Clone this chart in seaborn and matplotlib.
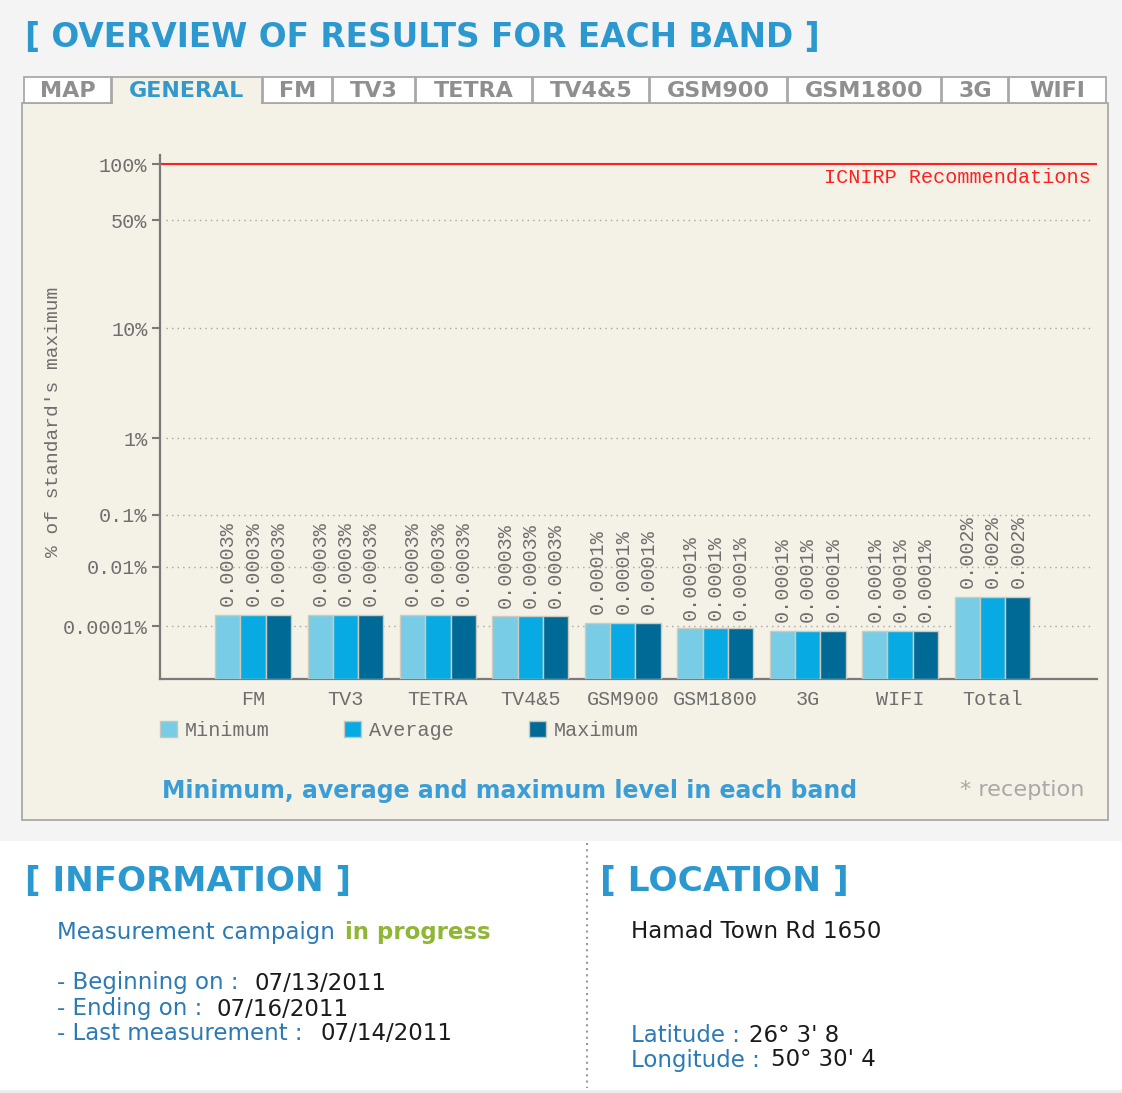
import numpy as np
import pandas as pd
import matplotlib
matplotlib.use("Agg")
import matplotlib.pyplot as plt
import seaborn as sns
from matplotlib.patches import Rectangle
from matplotlib.lines import Line2D

# ---------------- data ----------------
bands = ["FM", "TV3", "TETRA", "TV4&5", "GSM900", "GSM1800", "3G", "WIFI", "Total"]
levels = ["Minimum", "Average", "Maximum"]
minimum = [0.00024, 0.00024, 0.00024, 0.00021, 0.00013, 0.000085, 0.000066, 0.000066, 0.00098]
average = [0.00024, 0.00024, 0.00024, 0.00021, 0.00013, 0.000085, 0.000066, 0.000066, 0.00098]
maximum = [0.00024, 0.00024, 0.00024, 0.00021, 0.00013, 0.000085, 0.000066, 0.000066, 0.00098]
value_labels = ["0.0003%", "0.0003%", "0.0003%", "0.0003%", "0.0001%",
                "0.0001%", "0.0001%", "0.0001%", "0.002%"]
tick_values = [100, 50, 10, 1, 0.1, 0.01, 0.0001]
tick_labels = ["100%", "50%", "10%", "1%", "0.1%", "0.01%", "0.0001%"]
icnirp_limit = 100
tabs = ["MAP", "GENERAL", "FM", "TV3", "TETRA", "TV4&5", "GSM900", "GSM1800", "3G", "WIFI"]
active_tab = "GENERAL"
colors = ["#78cce6", "#08aae4", "#006a96"]

# ---------------- figure helpers ----------------
W, H = 1122, 1093
plt.rcParams["font.family"] = ["Liberation Mono", "DejaVu Sans Mono"]
fig = plt.figure(figsize=(W / 100, H / 100), dpi=100, facecolor="white")
renderer = fig.canvas.get_renderer()


def fx(x):
    return x / W


def fy(y):
    return 1 - y / H


def rect(x0, y0, x1, y1, fc, ec="none", lw=0, z=0):
    fig.add_artist(Rectangle((fx(x0), fy(y1)), (x1 - x0) / W, (y1 - y0) / H,
                             transform=fig.transFigure, facecolor=fc,
                             edgecolor=ec, lw=lw, zorder=z))


def put(x, y, s, size=14, width=None, **kw):
    kw.setdefault("va", "center")
    kw.setdefault("family", "DejaVu Sans")
    t = fig.text(fx(x), fy(y), s, fontsize=size, **kw)
    if width is not None:
        w = t.get_window_extent(renderer).width
        t.set_fontsize(size * width / w)
    return t


# ---------------- page background ----------------
rect(0, 0, W, 841, "#f4f4f4", z=0)
rect(22, 103, 1108, 820, "#f4f1e6", ec="#a9a9a9", lw=1.3, z=1)

tab_edges = [23, 111, 262, 332, 415, 532, 649, 787, 941, 1008, 1106]
for i, name in enumerate(tabs):
    x0, x1 = tab_edges[i] + 1, tab_edges[i + 1]
    active = name == active_tab
    rect(x0, 77, x1, 103, "#f4f1e6" if active else "white", ec="#a9a9a9", lw=1.3, z=2)
    if active:
        rect(x0 + 1, 101.5, x1 - 1, 105, "#f4f1e6", z=3)
    put((x0 + x1) / 2, 91, name, size=16, weight="bold", ha="center",
        color="#3399cc" if active else "#8f8f8f", zorder=4)

put(25, 38, "[ OVERVIEW OF RESULTS FOR EACH BAND ]", size=24, width=797,
    weight="bold", color="#2b98d0", zorder=4)

put(162, 791, "Minimum, average and maximum level in each band", size=15, width=694,
    weight="bold", color="#3a9dd6", zorder=4)
put(960, 790, "* reception", size=14, width=125, color="#a8a8a8", zorder=4)

# ---------------- chart ----------------
scale_log = [-6, -4, -2, -1, 0, 1, np.log10(50), 2, np.log10(112)]
scale_px = [679, 626, 567, 515, 438, 328, 220, 164, 155]
P = [679 - p for p in scale_px]


def fwd(v):
    v = np.asarray(v, dtype=float)
    return np.interp(np.log10(np.maximum(v, 1e-12)), scale_log, P)


def inv(p):
    return 10 ** np.interp(np.asarray(p, dtype=float), P, scale_log)


ax = fig.add_axes([fx(160), fy(679), (1097 - 160) / W, (679 - 155) / H], zorder=5)
ax.set_facecolor("none")

df = pd.DataFrame({
    "band": bands * 3,
    "level": [levels[0]] * 9 + [levels[1]] * 9 + [levels[2]] * 9,
    "value": minimum + average + maximum,
})
sns.barplot(data=df, x="band", y="value", hue="level", order=bands, hue_order=levels,
            palette=colors, saturation=1, width=0.82, edgecolor="#cfcabb",
            linewidth=1, ax=ax, legend=False, zorder=3)

ax.set_yscale("function", functions=(fwd, inv))
ax.set_ylim(1e-6, 112)
ax.set_xlim(-1.006, 9.13)

MS = 14.5
GRAY = "#6e6e6e"
for v in tick_values[1:]:
    ax.axhline(v, color="#a3a3a3", lw=1, ls=(0, (1, 3)), xmin=0.006, xmax=0.995, zorder=1)
ax.axhline(icnirp_limit, color="#ff2020", lw=1.5, zorder=2)
ax.annotate("ICNIRP Recommendations", xy=(0.9936, icnirp_limit),
            xycoords=ax.get_yaxis_transform(), xytext=(0, -3),
            textcoords="offset points", ha="right", va="top",
            fontsize=MS, color="#ff2020")

for container in ax.containers:
    ax.bar_label(container, labels=value_labels, rotation=90, padding=6,
                 fontsize=MS, color=GRAY)

ax.set_yticks(tick_values, tick_labels)
ax.minorticks_off()
ax.tick_params(axis="y", length=6, width=1.5, color="#7a7a7a", pad=3,
               labelsize=MS, labelcolor=GRAY)
ax.tick_params(axis="x", length=0, pad=8, labelsize=MS, labelcolor=GRAY)
ax.set_xlabel("")
ax.set_ylabel("% of standard's maximum", fontsize=14, color=GRAY)
ax.yaxis.set_label_coords(-0.1046, 0.49)
for s in ["top", "right"]:
    ax.spines[s].set_visible(False)
for s in ["left", "bottom"]:
    ax.spines[s].set_color("#7a7a7a")
    ax.spines[s].set_linewidth(1.6)

handles = [Rectangle((0, 0), 1, 1, facecolor=c, edgecolor="#c9c5b8", lw=1) for c in colors]
fig.legend(handles, levels, loc="upper left", bbox_to_anchor=(fx(160), fy(721)),
           bbox_transform=fig.transFigure, ncol=3, frameon=False, fontsize=MS,
           handlelength=0.84, handleheight=0.84, handletextpad=0.4,
           columnspacing=3.7, borderpad=0, borderaxespad=0, labelcolor=GRAY)

# ---------------- information / location ----------------
BLUE = "#2b7ab5"
BLACK = "#1a1a1a"
put(25, 881, "[ INFORMATION ]", size=22, width=325, weight="bold", color="#2b98d0")
put(600, 881, "[ LOCATION ]", size=22, width=248, weight="bold", color="#2b98d0")

t = put(57, 932, "Measurement campaign", size=14, width=277, color=BLUE)
FS = t.get_fontsize()
put(345, 932, "in progress", size=FS, weight="bold", color="#8fb635")

rows = [(983, "- Beginning on : ", 254, "07/13/2011"),
        (1009, "- Ending on : ", 216, "07/16/2011"),
        (1034, "- Last measurement : ", 320, "07/14/2011")]
for y, lab, xv, val in rows:
    put(57, y, lab, size=FS, color=BLUE)
    put(xv, y, val, size=FS, color=BLACK)

put(631, 932, "Hamad Town Rd 1650", size=FS, color=BLACK)
put(631, 1035, "Latitude : ", size=FS, color=BLUE)
put(749, 1035, "26° 3' 8", size=FS, color=BLACK)
put(631, 1060, "Longitude : ", size=FS, color=BLUE)
put(771, 1060, "50° 30' 4", size=FS, color=BLACK)

fig.add_artist(Line2D([fx(587), fx(587)], [fy(843), fy(1088)], transform=fig.transFigure,
                      color="#9a9a9a", lw=1.5, ls=(0, (1, 2))))
fig.add_artist(Line2D([0, 1], [fy(1091), fy(1091)], transform=fig.transFigure,
                      color="#ececec", lw=2))

fig.savefig("out.png", dpi=100, facecolor=fig.get_facecolor())
